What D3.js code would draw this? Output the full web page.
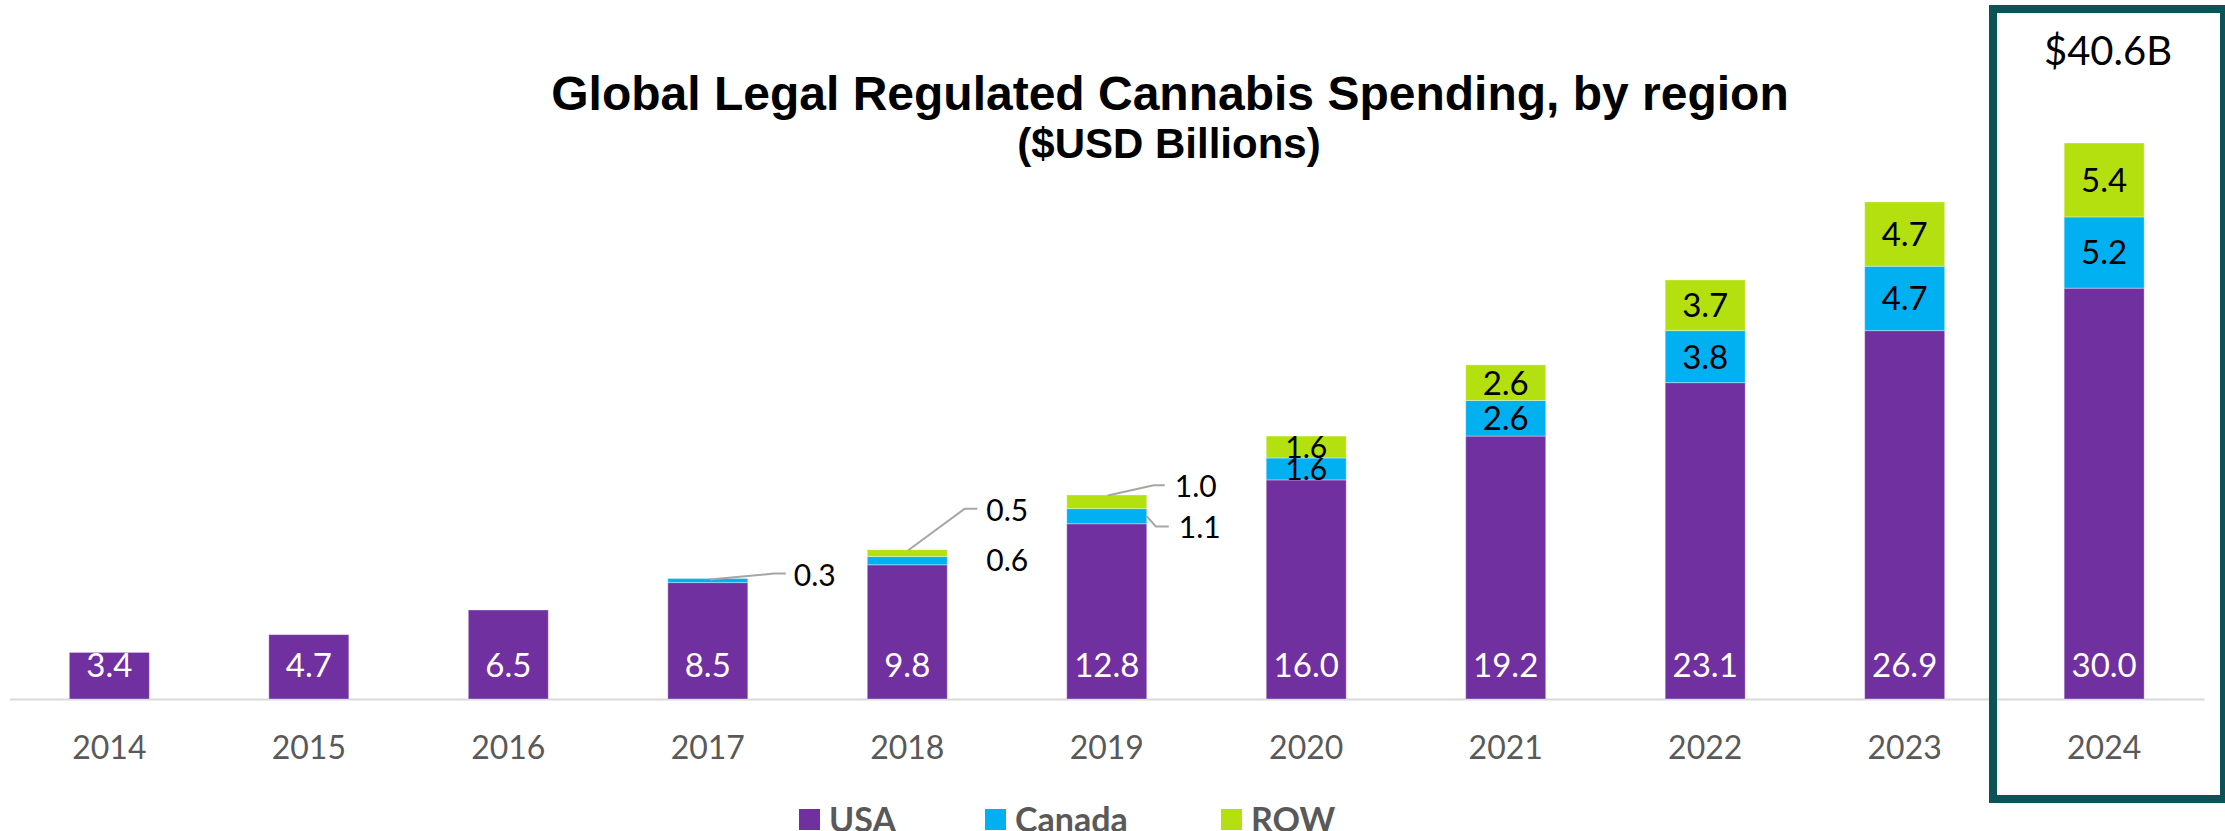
<!DOCTYPE html>
<html>
<head>
<meta charset="utf-8">
<script src="https://cdn.jsdelivr.net/npm/d3@7"></script>
<style>
  html, body { margin: 0; padding: 0; background: #ffffff; }
  svg { display: block; }
  text { font-family: Lato, "Open Sans", sans-serif; }
</style>
</head>
<body>
<svg id="chart" width="2225" height="831"></svg>
<script>
// Global legal regulated cannabis spending by region, $USD billions
const years  = ["2014", "2015", "2016", "2017", "2018", "2019", "2020", "2021", "2022", "2023", "2024"];
const usa    = [3.4, 4.7, 6.5, 8.5, 9.8, 12.8, 16.0, 19.2, 23.1, 26.9, 30.0];
const canada = [0, 0, 0, 0.3, 0.6, 1.1, 1.6, 2.6, 3.8, 4.7, 5.2];
const row    = [0, 0, 0, 0, 0.5, 1.0, 1.6, 2.6, 3.7, 4.7, 5.4];

const seriesKeys   = ["usa", "canada", "row"];
const seriesNames  = ["USA", "Canada", "ROW"];
const seriesColors = ["#7030A0", "#00B0F0", "#B5E00F"];

const titleText    = "Global Legal Regulated Cannabis Spending, by region";
const subtitleText = "($USD Billions)";

// rows for the stack layout
const table = years.map((yr, i) => ({ year: yr, usa: usa[i], canada: canada[i], row: row[i] }));
const stacked = d3.stack().keys(seriesKeys)(table);

const svg = d3.select("#chart");
const baseY = 699;

const x = d3.scaleBand()
  .domain(years)
  .range([9.5, 2204])
  .paddingInner(0.599)
  .paddingOuter(0.3);

const latest = table[table.length - 1];
const latestTotal = d3.sum(seriesKeys, k => latest[k]);

const y = d3.scaleLinear()
  .domain([0, latestTotal])
  .range([baseY, 143]);

const color = d3.scaleOrdinal().domain(seriesKeys).range(seriesColors);

// title block
svg.append("text")
  .attr("x", 1170).attr("y", 110)
  .attr("text-anchor", "middle")
  .style("font-family", "'Liberation Sans', Arial, sans-serif")
  .style("font-weight", "bold")
  .style("font-size", "48px")
  .attr("fill", "#000")
  .text(titleText);

svg.append("text")
  .attr("x", 1169).attr("y", 158)
  .attr("text-anchor", "middle")
  .style("font-family", "'Liberation Sans', Arial, sans-serif")
  .style("font-weight", "bold")
  .style("font-size", "42px")
  .attr("fill", "#000")
  .text(subtitleText);

// category axis along the baseline
const axis = svg.append("g")
  .attr("transform", `translate(0,${baseY})`)
  .call(d3.axisBottom(x).tickSize(0).tickSizeOuter(0));
axis.select(".domain").attr("stroke", "#d9d9d9").attr("stroke-width", 2);
axis.selectAll(".tick text")
  .attr("y", 60).attr("dy", 0)
  .style("font-family", "Lato, sans-serif")
  .style("font-size", "32px")
  .attr("fill", "#595959");

// stacked bars
const layers = svg.append("g").selectAll("g")
  .data(stacked)
  .join("g")
  .attr("fill", d => color(d.key));

layers.selectAll("rect")
  .data(d => d.filter(s => s[1] - s[0] > 0))
  .join("rect")
  .attr("x", d => x(d.data.year))
  .attr("width", x.bandwidth())
  .attr("y", d => y(d[1]))
  .attr("height", d => y(d[0]) - y(d[1]))
  .attr("stroke", "rgba(255,255,255,0.35)")
  .attr("stroke-width", 1);

const fmt = d3.format(".1f");
const labels = svg.append("g");

// USA values sit just above the baseline, in white
stacked[0].forEach(s => {
  labels.append("text")
    .attr("x", x(s.data.year) + x.bandwidth() / 2)
    .attr("y", y(0) - 22)
    .attr("text-anchor", "middle")
    .style("font-size", "33px")
    .attr("fill", "#ffffff")
    .text(fmt(s[1] - s[0]));
});

// small segments get leader lines; offsets relative to bar centre / segment centre
const callouts = {
  "2017-canada": { line: [[2, -1], [66, -7], [78, -7]], lx: 86, ly: -5 },
  "2018-row":    { line: [[1, "top"], [57.5, -44.5], [70, -44.5]], lx: 79, ly: -43 },
  "2018-canada": { line: null, lx: 79, ly: 0 },
  "2019-row":    { line: [[1, "top"], [47, -16.6], [58, -16.6]], lx: 68, ly: -16 },
  "2019-canada": { line: [[40, 0], [49, 10.2], [62, 10.2]], lx: 72, ly: 11 }
};

stacked.slice(1).forEach(layer => {
  layer.forEach(s => {
    const v = s[1] - s[0];
    if (v <= 0) return;
    const cx = x(s.data.year) + x.bandwidth() / 2;
    const top = y(s[1]);
    const cy = (y(s[0]) + y(s[1])) / 2;
    const key = s.data.year + "-" + layer.key;
    const c = callouts[key];
    if (c) {
      if (c.line) {
        const pts = c.line.map(p => [cx + p[0], p[1] === "top" ? top + 0.5 : cy + p[1]]);
        labels.append("path")
          .attr("d", d3.line()(pts))
          .attr("fill", "none")
          .attr("stroke", "#a6a6a6")
          .attr("stroke-width", 2);
      }
      labels.append("text")
        .attr("x", cx + c.lx)
        .attr("y", cy + c.ly + 10.8)
        .style("font-size", "30px")
        .attr("fill", "#000")
        .text(fmt(v));
    } else {
      const size = v < 2 ? 30 : 33;
      labels.append("text")
        .attr("x", cx)
        .attr("y", cy + size * 0.36)
        .attr("text-anchor", "middle")
        .style("font-size", size + "px")
        .attr("fill", "#000")
        .text(fmt(v));
    }
  });
});

// highlight frame around the latest year with its total
svg.append("rect")
  .attr("x", 1993).attr("y", 9)
  .attr("width", 231).attr("height", 790)
  .attr("fill", "none")
  .attr("stroke", "#0C5358")
  .attr("stroke-width", 8);

svg.append("text")
  .attr("x", 2108).attr("y", 65)
  .attr("text-anchor", "middle")
  .style("font-size", "40px")
  .attr("fill", "#000")
  .text("$" + fmt(latestTotal) + "B");

// legend
const legendX = [799, 985, 1221];
const legend = svg.append("g");
seriesNames.forEach((name, i) => {
  legend.append("rect")
    .attr("x", legendX[i]).attr("y", 809)
    .attr("width", 21).attr("height", 21)
    .attr("fill", seriesColors[i]);
  legend.append("text")
    .attr("x", legendX[i] + 30).attr("y", 832)
    .style("font-size", "34px")
    .style("font-weight", "bold")
    .attr("fill", "#595959")
    .text(name);
});
</script>
</body>
</html>
